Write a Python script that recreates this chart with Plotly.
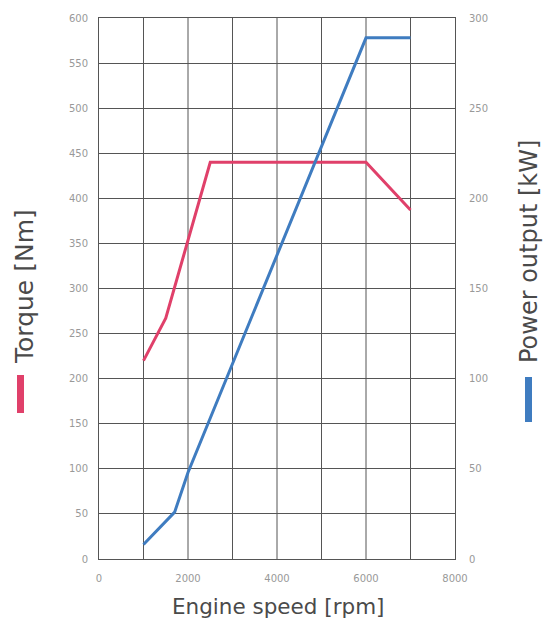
import plotly.graph_objects as go

rpm_torque = [1000, 1500, 2500, 6000, 7000]
torque_nm = [220, 267, 440, 440, 387]
rpm_power = [1000, 1700, 2000, 6000, 7000]
power_kw = [8, 26, 48, 289, 289]

x_ticks = [0, 2000, 4000, 6000, 8000]
grid_rpm = [1000, 2000, 3000, 4000, 5000, 6000, 7000]
torque_ticks = list(range(0, 601, 50))
power_ticks = list(range(0, 301, 50))

RED = "#e0406a"
BLUE = "#3f7cc0"
GRID = "#555555"
TICKC = "#999999"

fig = go.Figure()
# vertical grid lines every 1000 rpm
fig.add_trace(go.Scatter(
    x=[v for k in grid_rpm for v in (k, k, None)],
    y=[v for k in grid_rpm for v in (0, 600, None)],
    mode="lines", line=dict(color=GRID, width=1), hoverinfo="skip", showlegend=False))
fig.add_trace(go.Scatter(x=rpm_torque, y=torque_nm, mode="lines",
                         line=dict(color=RED, width=3), yaxis="y", showlegend=False))
fig.add_trace(go.Scatter(x=rpm_power, y=power_kw, mode="lines",
                         line=dict(color=BLUE, width=3), yaxis="y2", showlegend=False))

# plot area spans x 99..455, y 18..559 in the window
fig.update_layout(
    width=546, height=619,
    margin=dict(l=99, r=91, t=18, b=60),
    paper_bgcolor="white", plot_bgcolor="white",
    font=dict(family="DejaVu Sans", color="#555"),
    xaxis=dict(range=[0, 8000], tickvals=x_ticks, ticktext=[str(v) for v in x_ticks],
               showgrid=False, zeroline=False, showline=True,
               linecolor=GRID, linewidth=1, mirror=True,
               tickfont=dict(size=10, color=TICKC), ticks="", ticklabelstandoff=10),
    yaxis=dict(range=[0, 600], tickvals=torque_ticks, showgrid=True, gridcolor=GRID,
               gridwidth=1, zeroline=False, showline=True, linecolor=GRID,
               tickfont=dict(size=10, color=TICKC), ticks="", ticklabelstandoff=8),
    yaxis2=dict(range=[0, 300], tickvals=power_ticks, overlaying="y", side="right",
                showgrid=False, zeroline=False, showline=True, linecolor=GRID,
                tickfont=dict(size=10, color=TICKC), ticks="", ticklabelstandoff=11),
)

PW, PH = 356.0, 541.0
def px(x):
    return (x - 99) / PW
def py(y):
    return (559 - y) / PH

fig.add_annotation(text="Engine speed [rpm]", xref="paper", yref="paper",
                   x=px(278), y=py(606), xanchor="center", yanchor="middle",
                   showarrow=False, font=dict(size=21.5, color="#4a4a4a"))
fig.add_annotation(text="Torque [Nm]", xref="paper", yref="paper",
                   x=px(24), y=py(287), textangle=-90, xanchor="center", yanchor="middle",
                   showarrow=False, font=dict(size=25, color="#4a4a4a"))
fig.add_annotation(text="Power output [kW]", xref="paper", yref="paper",
                   x=px(529), y=py(252), textangle=-90, xanchor="center", yanchor="middle",
                   showarrow=False, font=dict(size=24, color="#4a4a4a"))

# colored legend bars
fig.add_shape(type="rect", xref="paper", yref="paper",
              x0=px(17), x1=px(24), y0=py(413), y1=py(375),
              fillcolor=RED, line=dict(width=0))
fig.add_shape(type="rect", xref="paper", yref="paper",
              x0=px(525), x1=px(532), y0=py(422), y1=py(377),
              fillcolor=BLUE, line=dict(width=0))

fig.write_html("out.html", config={"displayModeBar": False},
               post_script="document.body.style.margin='0px';document.body.style.overflow='hidden';")
